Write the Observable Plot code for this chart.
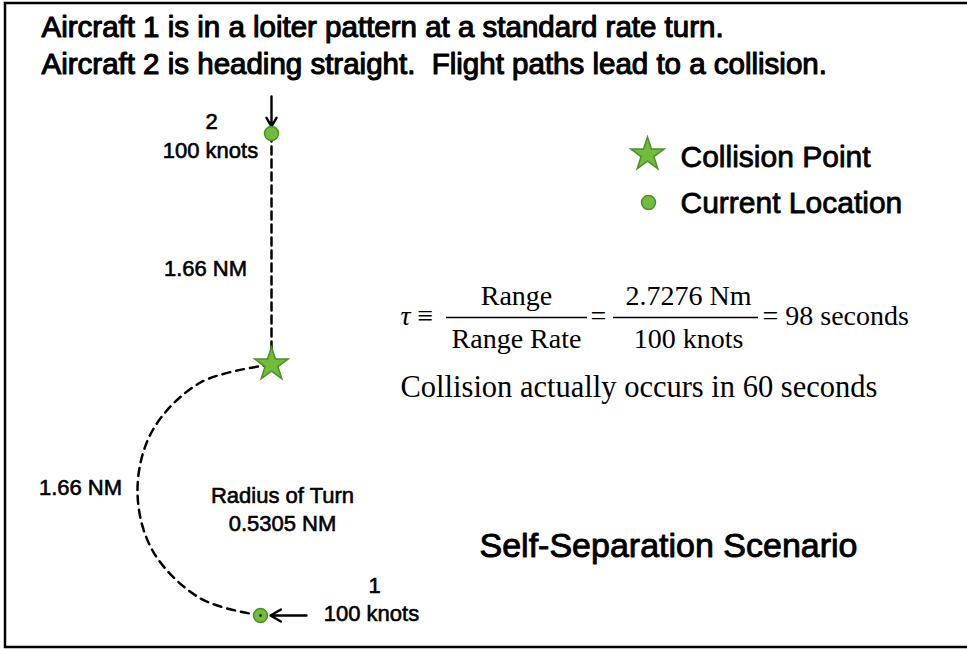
<!DOCTYPE html>
<html><head><meta charset="utf-8">
<script src="https://cdn.jsdelivr.net/npm/d3@7"></script>
<script src="https://cdn.jsdelivr.net/npm/@observablehq/plot@0.6"></script>
<style>html,body{margin:0;padding:0;background:#fff;} svg{display:block}</style>
</head><body><div id="chart"></div>
<script>
// ---- text content ----
const titleLines = [
  "Aircraft 1 is in a loiter pattern at a standard rate turn.",
  "Aircraft 2 is heading straight.\u00a0 Flight paths lead to a collision."
];
const aircraftIds = ["1", "2"];
const aircraftSpeeds = ["100 knots", "100 knots"];
const legendLabels = ["Collision Point", "Current Location"];
const legendSymbols = ["star", "circle"];
const segmentLabels = ["1.66 NM", "1.66 NM"];
const turnLabels = ["Radius of Turn", "0.5305 NM"];
const scenarioTitle = "Self-Separation Scenario";
const tauNumerators = ["Range", "2.7276 Nm"];
const tauDenominators = ["Range Rate", "100 knots"];
const tauResult = "= 98 seconds";
const actualNote = "Collision actually occurs in 60 seconds";

// ---- diagram geometry (diagram units) ----
const aircraftX = [260, 271];
const aircraftY = [615, 133];
const collisionX = [271];
const collisionY = [364];
const straightLegX = [271, 271];
const straightLegY = [133, 364];
const turnX = [271, 200, 152, 137, 152, 200, 260];
const turnY = [364, 382, 430, 490, 550, 598, 615];

// ---- layout of annotations ----
const titleX = [41, 41], titleY = [27, 64];
const idLabelX = [374, 211], idLabelY = [585, 121];
const speedLabelX = [371, 210], speedLabelY = [613, 150];
const arrowStart = [[306, 615], [271, 96]];
const arrowEnd = [[270, 615], [271, 126]];
const segLabelX = [205, 80], segLabelY = [268, 487];
const turnLabelX = [282, 282], turnLabelY = [495, 523];
const legendSymX = [647, 648], legendSymY = [154, 202];
const legendTextX = [680, 680], legendTextY = [157, 203];
const fracCenterX = [516, 688];
const fracBarX1 = [446, 613], fracBarX2 = [587, 758];

const aircraft = aircraftIds.map((id, i) => ({id, speed: aircraftSpeeds[i], x: aircraftX[i], y: aircraftY[i],
  lx: idLabelX[i], ly: idLabelY[i], sx: speedLabelX[i], sy: speedLabelY[i],
  ax1: arrowStart[i][0], ay1: arrowStart[i][1], ax2: arrowEnd[i][0], ay2: arrowEnd[i][1]}));
const collision = collisionX.map((x, i) => ({x, y: collisionY[i]}));
const straightLeg = straightLegX.map((x, i) => ({x, y: straightLegY[i]}));
const turn = turnX.map((x, i) => ({x, y: turnY[i]}));
const legend = legendLabels.map((t, i) => ({t, sym: legendSymbols[i], x: legendSymX[i], y: legendSymY[i], tx: legendTextX[i], ty: legendTextY[i]}));
const titles = titleLines.map((t, i) => ({t, x: titleX[i], y: titleY[i]}));
const segs = segmentLabels.map((t, i) => ({t, x: segLabelX[i], y: segLabelY[i]}));
const turnTxt = turnLabels.map((t, i) => ({t, x: turnLabelX[i], y: turnLabelY[i]}));
const fracs = tauNumerators.map((n, i) => ({n, d: tauDenominators[i], x: fracCenterX[i], x1: fracBarX1[i], x2: fracBarX2[i]}));

const GREEN = "#72bb3d", GREEN_DARK = "#4f8f27";
const SANS = "Liberation Sans, Arial, sans-serif";
const SERIF = "Liberation Serif, Times New Roman, serif";
const labelStyle = {fontSize: 22, fontFamily: SANS, fill: "black", stroke: "black", strokeWidth: 0.6};

const chart = Plot.plot({
  width: 967, height: 649, margin: 0,
  x: {domain: [0, 967], range: [0, 967], axis: null},
  y: {domain: [0, 649], range: [0, 649], axis: null},
  style: {background: "#fff"},
  marks: [
    Plot.rect([{x1: 5, x2: 975, y1: 3, y2: 647}], {x1: "x1", x2: "x2", y1: "y1", y2: "y2", fill: "none", stroke: "black", strokeWidth: 2.5}),
    // titles
    Plot.text(titles, {x: "x", y: "y", text: "t", textAnchor: "start", fontSize: 29.5, fontFamily: SANS, fill: "black", stroke: "black", strokeWidth: 1.1}),
    // flight paths
    Plot.line(straightLeg, {x: "x", y: "y", stroke: "black", strokeWidth: 2.5, strokeDasharray: "8,5"}),
    Plot.line(turn, {x: "x", y: "y", curve: "catmull-rom", stroke: "black", strokeWidth: 2.5, strokeDasharray: "8,6"}),
    // arrows
    Plot.arrow(aircraft, {x1: "ax1", y1: "ay1", x2: "ax2", y2: "ay2", stroke: "black", strokeWidth: 2.4, headLength: 11}),
    // aircraft current location
    Plot.dot(aircraft, {x: "x", y: "y", r: 7, fill: GREEN, stroke: GREEN_DARK, strokeWidth: 1.5}),
    Plot.dot(aircraft.filter(d => d.id === "1"), {x: "x", y: "y", r: 1.3, fill: "black"}),
    // collision point
    Plot.dot(collision, {x: "x", y: "y", symbol: "star", r: 10.5, fill: GREEN, stroke: GREEN_DARK, strokeWidth: 1.5}),
    // aircraft labels
    Plot.text(aircraft, {x: "lx", y: "ly", text: "id", ...labelStyle}),
    Plot.text(aircraft, {x: "sx", y: "sy", text: "speed", ...labelStyle}),
    Plot.text(segs, {x: "x", y: "y", text: "t", ...labelStyle}),
    Plot.text(turnTxt, {x: "x", y: "y", text: "t", ...labelStyle}),
    // legend
    Plot.dot(legend.filter(d => d.sym === "star"), {x: "x", y: "y", symbol: "star", r: 10.5, fill: GREEN, stroke: GREEN_DARK, strokeWidth: 1.5}),
    Plot.dot(legend.filter(d => d.sym === "circle"), {x: "x", y: "y", r: 7, fill: GREEN, stroke: GREEN_DARK, strokeWidth: 1.5}),
    Plot.text(legend, {x: "tx", y: "ty", text: "t", textAnchor: "start", fontSize: 30, fontFamily: SANS, fill: "black", stroke: "black", strokeWidth: 0.8}),
    // equation
    Plot.text(["\u03c4"], {x: 400, y: 316, textAnchor: "start", fontSize: 28, fontStyle: "italic", fontFamily: SERIF, fill: "black"}),
    Plot.text(["\u2261"], {x: 417, y: 316, textAnchor: "start", fontSize: 28, fontFamily: SERIF, fill: "black"}),
    Plot.text(fracs, {x: "x", y: 296, text: "n", fontSize: 28, fontFamily: SERIF, fill: "black"}),
    Plot.text(fracs, {x: "x", y: 339, text: "d", fontSize: 28, fontFamily: SERIF, fill: "black"}),
    Plot.ruleY(fracs, {x1: "x1", x2: "x2", y: 317, stroke: "black", strokeWidth: 1.3}),
    Plot.text(["="], {x: 590, y: 316, textAnchor: "start", fontSize: 28, fontFamily: SERIF, fill: "black"}),
    Plot.text([tauResult], {x: 762, y: 316, textAnchor: "start", fontSize: 28, fontFamily: SERIF, fill: "black"}),
    Plot.text([actualNote], {x: 400, y: 387, textAnchor: "start", fontSize: 30.5, fontFamily: SERIF, fill: "black"}),
    // scenario title
    Plot.text([scenarioTitle], {x: 668, y: 546, fontSize: 34, fontFamily: SANS, fill: "black", stroke: "black", strokeWidth: 0.9})
  ]
});
document.getElementById("chart").append(chart);
</script>
</body></html>
